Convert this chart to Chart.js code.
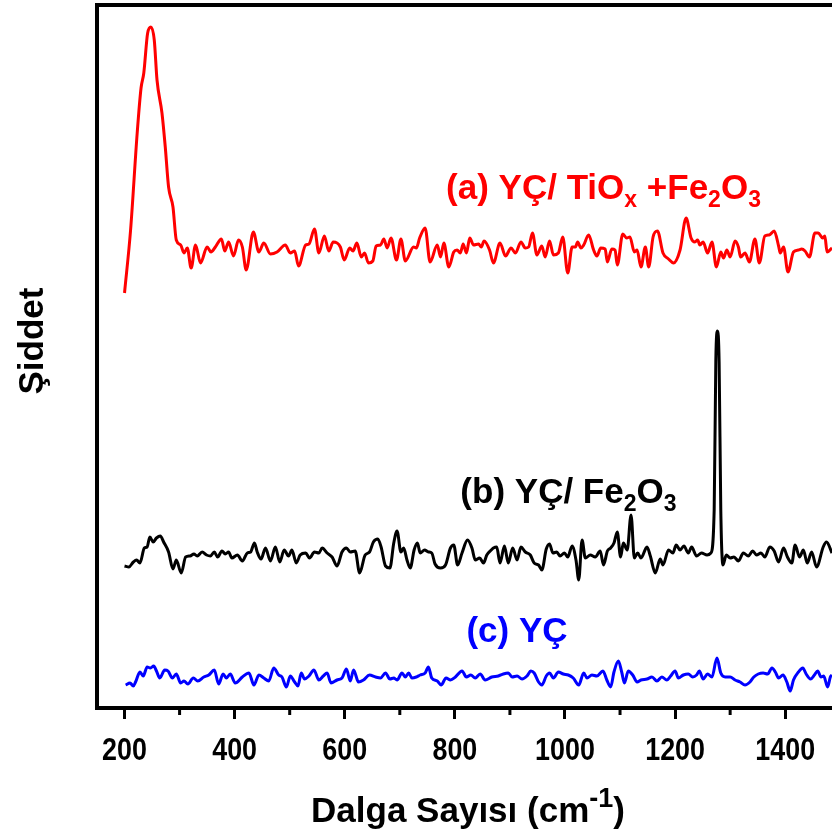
<!DOCTYPE html>
<html>
<head>
<meta charset="utf-8">
<script src="https://cdn.jsdelivr.net/npm/chart.js@4.4.0/dist/chart.umd.min.js"></script>
<style>
  html, body { margin: 0; padding: 0; background: #fff; overflow: hidden; }
  #wrap { width: 832px; height: 836px; }
</style>
</head>
<body>
<div id="wrap"><canvas id="raman" width="832" height="836"></canvas></div>
<script>
// [wavenumber cm-1, intensity a.u.] for each sample
var traceA = [
  [200,415],[211,478],[223,575],[230,620],[235,635],[242,675],[248,681],[254,668],[259,628],[268,595],
  [274,561],[280,521],[288,501],[294,468],[302,463],[308,455],[314,460],[321,440],[329,463],[338,445],
  [350,461],[357,456],[365,461],[376,469],[382,457],[389,466],[398,452],[407,468],[414,461],[421,438],
  [434,476],[444,456],[453,465],[465,454],[477,456],[492,463],[501,455],[509,457],[516,442],[529,463],
  [535,464],[545,479],[553,455],[563,472],[571,457],[579,466],[592,461],[599,448],[609,460],[615,457],
  [622,465],[630,451],[636,455],[643,445],[651,447],[657,462],[665,463],[671,469],[677,460],[684,470],
  [694,448],[702,469],[710,447],[725,461],[730,460],[736,470],[746,480],[755,446],[768,463],[774,451],
  [780,465],[789,441],[798,456],[804,458],[810,455],[815,464],[821,455],[827,470],[834,463],[843,464],
  [848,461],[853,467],[863,458],[870,445],[882,465],[892,452],[902,460],[910,455],[920,466],[928,460],
  [934,461],[941,475],[949,453],[958,462],[964,451],[972,467],[979,453],[988,455],[996,471],[1005,435],
  [1013,461],[1019,461],[1023,466],[1029,460],[1034,463],[1043,473],[1052,458],[1058,452],[1065,460],[1073,459],
  [1077,446],[1085,459],[1091,458],[1095,443],[1105,474],[1112,470],[1118,471],[1126,456],[1131,458],[1138,441],
  [1146,461],[1152,441],[1160,471],[1168,477],[1178,455],[1188,449],[1197,445],[1209,458],[1220,490],[1229,470],
  [1236,466],[1241,468],[1245,463],[1251,466],[1259,455],[1267,466],[1275,441],[1283,456],[1288,450],[1294,458],
  [1300,451],[1309,467],[1315,461],[1319,451],[1327,455],[1335,446],[1345,469],[1353,445],[1363,472],[1371,473],
  [1380,477],[1388,462],[1391,455],[1397,461],[1405,436],[1415,456],[1424,458],[1430,459],[1436,457],[1444,451],
  [1454,475],[1460,475],[1468,470],[1472,472],[1476,456],[1485,460]
];

var traceB = [
  [200,142],[208,141],[216,146],[222,148],[228,145],[236,160],[241,161],[246,171],[252,166],[258,170],
  [265,172],[271,166],[280,156],[288,139],[294,148],[303,135],[311,151],[319,152],[326,154],[332,152],
  [341,156],[349,153],[356,152],[363,156],[369,151],[377,157],[383,154],[389,156],[395,150],[405,153],
  [414,147],[423,155],[429,156],[436,165],[441,156],[448,149],[456,160],[465,147],[474,161],[482,146],
  [490,158],[498,152],[504,158],[512,145],[519,153],[529,155],[536,150],[545,156],[553,155],[559,160],
  [568,155],[577,151],[586,142],[595,156],[603,160],[610,156],[619,157],[627,135],[637,153],[645,156],
  [652,166],[660,169],[666,161],[674,142],[682,140],[689,165],[695,177],[702,156],[707,160],[713,148],
  [719,140],[726,158],[732,165],[737,155],[745,158],[752,156],[758,155],[764,144],[774,140],[783,143],
  [792,160],[798,163],[805,143],[813,155],[823,168],[831,160],[837,148],[845,150],[852,145],[858,153],
  [866,158],[870,160],[876,161],[882,145],[890,162],[897,145],[905,160],[913,148],[920,161],[928,156],
  [937,153],[944,145],[952,143],[958,138],[966,159],[972,164],[978,155],[985,156],[991,152],[999,155],
  [1005,151],[1013,162],[1020,148],[1025,128],[1031,168],[1037,150],[1046,153],[1055,151],[1064,157],[1070,143],
  [1077,157],[1083,160],[1089,165],[1095,176],[1101,151],[1106,165],[1113,158],[1120,193],[1126,150],[1132,155],
  [1138,150],[1149,161],[1155,152],[1164,135],[1173,149],[1178,143],[1188,158],[1196,155],[1202,163],[1209,158],
  [1216,162],[1224,155],[1230,161],[1239,152],[1248,155],[1258,153],[1265,155],[1271,198],[1274,348],[1277,377],
  [1280,345],[1283,198],[1287,143],[1293,153],[1300,150],[1307,151],[1315,147],[1324,155],[1333,152],[1341,157],
  [1348,153],[1356,155],[1363,151],[1372,161],[1380,157],[1388,146],[1397,160],[1404,151],[1412,145],[1418,163],
  [1426,151],[1433,158],[1440,145],[1448,156],[1457,141],[1469,161],[1475,166],[1485,155]
];

var traceC = [
  [202,23],[210,25],[216,22],[220,26],[228,36],[234,32],[241,41],[247,40],[253,42],[258,37],
  [264,30],[273,38],[279,37],[287,30],[294,34],[302,25],[308,27],[315,24],[325,30],[333,27],
  [344,31],[353,33],[363,38],[371,24],[379,34],[385,30],[392,34],[401,25],[414,31],[426,35],
  [435,23],[444,33],[453,30],[462,27],[471,40],[480,33],[486,31],[494,21],[501,32],[509,26],
  [515,22],[521,35],[527,29],[535,32],[544,38],[553,28],[561,32],[568,35],[575,25],[586,28],
  [595,30],[603,39],[610,27],[616,38],[625,26],[634,28],[645,33],[656,31],[665,30],[674,35],
  [682,29],[689,30],[695,28],[704,35],[710,31],[716,35],[722,30],[730,31],[737,33],[746,35],
  [752,41],[758,30],[768,27],[775,23],[784,30],[792,28],[801,31],[813,37],[821,31],[829,33],
  [837,30],[846,34],[855,28],[867,31],[879,32],[888,34],[897,35],[904,31],[913,32],[922,29],
  [931,32],[938,37],[944,35],[952,26],[958,23],[966,32],[972,35],[979,30],[988,36],[997,34],
  [1006,33],[1015,30],[1025,23],[1034,35],[1040,30],[1049,33],[1058,32],[1069,37],[1076,28],[1083,21],
  [1089,36],[1097,47],[1103,36],[1108,25],[1115,37],[1123,33],[1131,26],[1138,28],[1149,29],[1158,31],
  [1167,27],[1176,31],[1185,28],[1192,32],[1200,37],[1206,30],[1215,33],[1224,34],[1232,31],[1239,33],
  [1244,37],[1251,29],[1259,34],[1267,31],[1276,50],[1283,35],[1291,31],[1300,31],[1309,28],[1318,26],
  [1327,23],[1336,26],[1343,31],[1351,34],[1360,35],[1368,34],[1376,40],[1382,36],[1388,30],[1396,33],
  [1403,26],[1409,17],[1415,28],[1424,36],[1432,40],[1438,34],[1446,29],[1453,33],[1459,37],[1465,31],
  [1470,32],[1477,21],[1482,31],[1485,33]
];

var majorTicks = [200, 400, 600, 800, 1000, 1200, 1400];
var minorTicks = [300, 500, 700, 900, 1100, 1300, 1500];

var FONT = '"Liberation Sans", Arial, Helvetica, sans-serif';

// sample names, [text, isSubscript]; anchored at [wavenumber, intensity]
var sampleLabels = [
  { parts: [['(a) YÇ/ TiO'], ['x', 1], [' +Fe'], ['2', 1], ['O'], ['3', 1]], color: '#ff0000', at: [784, 509] },
  { parts: [['(b) YÇ/ Fe'], ['2', 1], ['O'], ['3', 1]], color: '#000000', at: [810, 205] },
  { parts: [['(c) YÇ']], color: '#0000ff', at: [821, 66] }
];

function toPoints(trace) {
  return trace.map(function(p) { return { x: p[0], y: p[1] }; });
}

function drawParts(ctx, parts, x, y, size) {
  parts.forEach(function(p) {
    var sub = p[1];
    ctx.font = 'bold ' + (sub ? Math.round(size * 0.66) : size) + 'px ' + FONT;
    ctx.fillText(p[0], x, sub ? y + size * 0.22 : y);
    x += ctx.measureText(p[0]).width;
  });
}

var framePlugin = {
  id: 'frame',
  afterDraw: function(chart) {
    var ctx = chart.ctx, a = chart.chartArea;
    var xs = chart.scales.x, ys = chart.scales.y;
    ctx.save();
    ctx.strokeStyle = '#000';

    // top edge of the frame
    ctx.lineWidth = 4;
    ctx.beginPath();
    ctx.moveTo(a.left - 2, a.top);
    ctx.lineTo(a.right, a.top);
    ctx.stroke();

    // short minor ticks between the labelled ones
    ctx.lineWidth = 3;
    minorTicks.forEach(function(v) {
      var px = xs.getPixelForValue(v);
      ctx.beginPath();
      ctx.moveTo(px, a.bottom);
      ctx.lineTo(px, a.bottom + 7);
      ctx.stroke();
    });

    // tick numbers, narrow bold digits
    ctx.fillStyle = '#000';
    ctx.textAlign = 'center';
    ctx.textBaseline = 'alphabetic';
    ctx.font = 'bold 32px ' + FONT;
    majorTicks.forEach(function(v) {
      ctx.save();
      ctx.translate(xs.getPixelForValue(v), a.bottom + 52);
      ctx.scale(0.84, 1);
      ctx.fillText(String(v), 0, 0);
      ctx.restore();
    });

    ctx.textAlign = 'left';
    sampleLabels.forEach(function(l) {
      ctx.fillStyle = l.color;
      drawParts(ctx, l.parts, xs.getPixelForValue(l.at[0]), ys.getPixelForValue(l.at[1]), 35);
    });

    // axis titles
    ctx.fillStyle = '#000';
    ctx.font = 'bold 35px ' + FONT;
    var t1 = 'Dalga Sayısı (cm', sup = '-1', t2 = ')';
    var w1 = ctx.measureText(t1).width, w3 = ctx.measureText(t2).width;
    ctx.font = 'bold 27px ' + FONT;
    var w2 = ctx.measureText(sup).width;
    var x0 = 468 - (w1 + w2 + w3) / 2, by = 822;
    ctx.font = 'bold 35px ' + FONT;
    ctx.fillText(t1, x0, by);
    ctx.font = 'bold 27px ' + FONT;
    ctx.fillText(sup, x0 + w1, by - 15);
    ctx.font = 'bold 35px ' + FONT;
    ctx.fillText(t2, x0 + w1 + w2, by);

    ctx.translate(33, 341);
    ctx.rotate(-Math.PI / 2);
    ctx.textAlign = 'center';
    ctx.textBaseline = 'middle';
    ctx.fillText('Şiddet', 0, 0);
    ctx.restore();
  }
};

new Chart(document.getElementById('raman'), {
  type: 'line',
  data: {
    datasets: [
      { data: toPoints(traceA), borderColor: '#ff0000' },
      { data: toPoints(traceB), borderColor: '#000000' },
      { data: toPoints(traceC), borderColor: '#0000ff' }
    ]
  },
  options: {
    responsive: false,
    animation: false,
    layout: { padding: { top: 5, left: 0, right: 0, bottom: 0 } },
    datasets: {
      line: {
        borderWidth: 3,
        pointRadius: 0,
        cubicInterpolationMode: 'monotone',
        borderJoinStyle: 'round',
        fill: false
      }
    },
    plugins: {
      legend: { display: false },
      tooltip: { enabled: false }
    },
    scales: {
      x: {
        type: 'linear',
        min: 150,
        max: 1485,
        afterBuildTicks: function(s) {
          s.ticks = majorTicks.map(function(v) { return { value: v }; });
        },
        afterFit: function(s) { s.height = 128; },
        grid: { drawOnChartArea: false, drawTicks: true, tickLength: 11, tickWidth: 3, tickColor: '#000' },
        border: { display: true, color: '#000', width: 4 },
        ticks: { display: false }
      },
      y: {
        min: 0,
        max: 703,
        afterFit: function(s) { s.width = 97; },
        ticks: { display: false },
        grid: { display: false },
        border: { display: true, color: '#000', width: 4 }
      }
    }
  },
  plugins: [framePlugin]
});
</script>
</body>
</html>
